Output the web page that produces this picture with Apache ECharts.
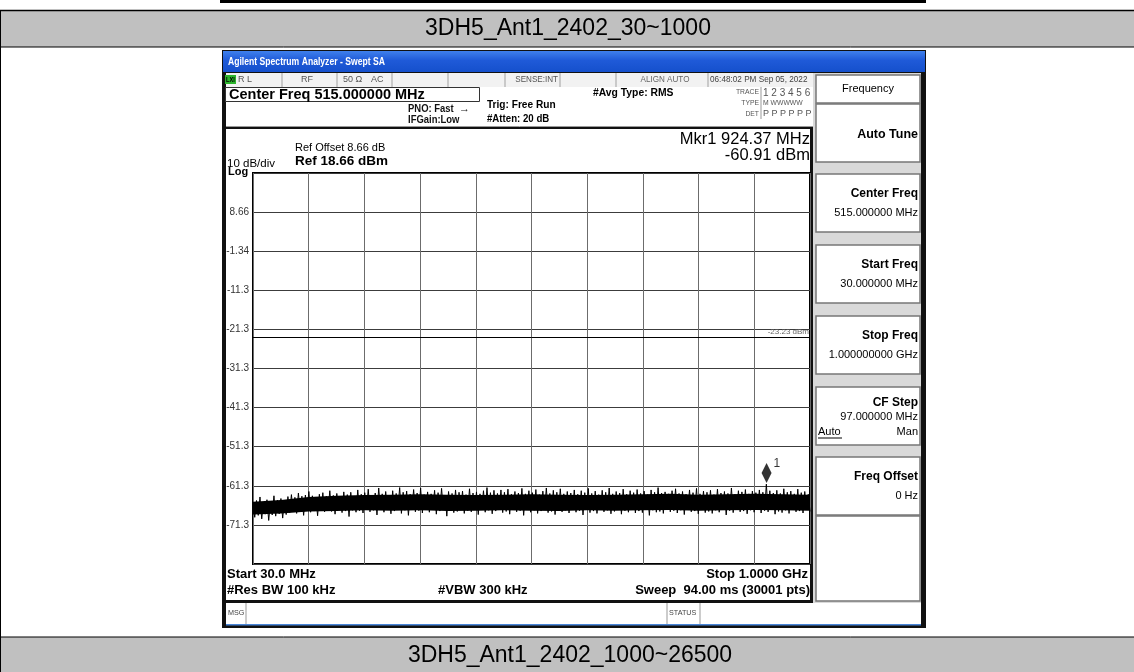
<!DOCTYPE html>
<html>
<head>
<meta charset="utf-8">
<script src="https://cdn.jsdelivr.net/npm/echarts@6/dist/echarts.min.js"></script>
<style>
  html, body { margin: 0; padding: 0; background: #fff; }
  #chart { width: 1134px; height: 672px; }
</style>
</head>
<body>
<div id="chart"></div>
<script>
// ---- data ----
const titleTop = '3DH5_Ant1_2402_30~1000';
const titleBottom = '3DH5_Ant1_2402_1000~26500';
const startMHz = 30;
const stopMHz = 1000;
const divMHz = 97;
const refLevel = 18.66;
const dbPerDiv = 10;
const yTickLabels = ['8.66', '-1.34', '-11.3', '-21.3', '-31.3', '-41.3', '-51.3', '-61.3', '-71.3'];
const displayLine = -23.23;
const markerFreqMHz = 924.37;
const markerLevel = -60.91;

// solid core of the noise floor, read every half division (30 MHz .. 1 GHz)
const coreTop = [-65.4, -65.0, -64.2, -63.9, -63.7, -63.6, -63.5, -63.6, -63.7, -63.6, -63.5,
                 -63.6, -63.7, -63.6, -63.5, -63.4, -63.6, -63.5, -63.4, -63.5, -63.6];
const coreBottom = [-68.7, -68.4, -67.9, -67.8, -67.6, -67.7, -67.6, -67.8, -67.7, -67.6, -67.7,
                    -67.8, -67.6, -67.7, -67.6, -67.5, -67.7, -67.6, -67.5, -67.6, -67.7];

// peak / trough readings of the noise floor, left to right
const traceDbm = [
  -65.8,-69.4,-65.1,-68.9,-64.2,-69.8,-65.5,-68.6,-64.9,-70.2,-65.3,-68.8,-63.9,-69.1,-65.0,-68.5,-64.6,-69.6,-65.2,-68.7,
  -64.1,-68.2,-63.6,-67.9,-64.3,-68.4,-63.2,-67.6,-64.0,-68.9,-63.7,-67.4,-62.8,-68.1,-63.9,-67.8,-64.2,-69.0,-63.5,-67.7,
  -63.1,-68.0,-64.0,-67.5,-62.6,-67.9,-63.8,-68.6,-63.3,-67.3,-64.1,-68.2,-62.9,-67.8,-63.6,-69.2,-63.0,-67.6,-64.2,-68.1,
  -62.4,-67.7,-63.5,-68.3,-63.1,-67.4,-62.2,-68.0,-63.7,-67.6,-63.2,-68.8,-61.9,-67.5,-63.4,-68.1,-62.8,-67.3,-63.9,-68.5,
  -62.6,-67.8,-63.3,-67.2,-61.8,-68.4,-63.0,-67.6,-62.7,-68.9,-63.5,-67.4,-62.3,-68.0,-63.2,-67.7,-61.9,-68.3,-63.6,-67.5,
  -62.9,-68.1,-63.4,-67.3,-62.5,-68.6,-63.1,-67.8,-62.0,-67.5,-63.7,-69.1,-62.8,-67.6,-63.3,-68.2,-62.4,-67.9,-63.0,-67.4,
  -62.7,-68.4,-63.6,-67.7,-62.1,-68.0,-63.2,-67.5,-62.9,-68.7,-63.4,-67.3,-62.6,-68.1,-61.8,-67.6,-63.1,-68.5,-62.5,-67.8,
  -63.3,-67.4,-62.4,-68.2,-63.0,-67.9,-62.2,-68.6,-63.5,-67.5,-62.8,-68.0,-63.2,-67.7,-62.0,-68.9,-63.4,-67.3,-62.6,-68.1,
  -63.1,-67.6,-62.3,-68.4,-63.6,-67.8,-62.7,-67.4,-61.9,-68.2,-63.3,-67.9,-62.5,-68.7,-63.0,-67.5,-62.1,-68.0,-63.4,-67.6,
  -62.8,-68.3,-63.2,-67.4,-62.4,-68.1,-63.5,-67.7,-62.6,-68.8,-63.1,-67.5,-62.0,-68.2,-63.3,-67.8,-62.7,-68.4,-63.6,-67.3,
  -62.5,-68.0,-63.0,-67.6,-61.9,-68.5,-63.4,-67.9,-62.8,-67.4,-63.2,-68.6,-62.2,-67.7,-63.5,-68.1,-62.6,-67.5,-63.1,-68.3,
  -62.3,-67.8,-63.3,-68.2,-62.7,-67.5,-63.6,-68.9,-62.4,-67.6,-63.0,-68.1,-61.8,-67.9,-63.2,-68.4,-62.9,-67.4,-63.4,-68.0,
  -62.6,-67.7,-62.1,-68.3,-63.3,-67.6,-62.8,-68.7,-63.5,-67.5,-62.4,-68.0,-63.1,-67.8,-62.0,-68.5,-63.4,-67.4,-62.7,-68.2,
  -63.0,-67.9,-62.5,-68.4,-63.6,-67.6,-62.2,-68.1,-63.2,-67.3,-62.8,-68.8,-63.3,-67.7,-61.9,-68.2,-63.5,-67.5,-62.6,-68.0,
  -62.9,-67.8,-62.3,-68.5,-63.4,-67.6,-62.7,-68.1,-63.1,-67.4,-62.4,-68.3,-63.0,-67.7,-60.91,-68.0,-62.6,-67.5,-63.2,-68.6,
  -62.5,-67.9,-63.3,-68.2,-62.1,-67.6,-63.0,-68.4,-62.7,-67.5,-63.4,-68.0,-62.2,-67.8,-63.1,-68.3,-62.8,-67.4,-63.5,-67.9
];

const statusCells = ['R L', 'RF', '50 \u03a9', 'AC', 'SENSE:INT', 'ALIGN AUTO', '06:48:02 PM Sep 05, 2022'];
const softkeyTitles = ['Auto Tune', 'Center Freq', 'Start Freq', 'Stop Freq', 'CF Step', 'Freq Offset'];
const softkeyValues = ['', '515.000000 MHz', '30.000000 MHz', '1.000000000 GHz', '97.000000 MHz', '0 Hz'];

const SANS = '"Liberation Sans", Arial, sans-serif';

// ---- little helpers for the instrument chrome ----
function box(x, y, w, h, fill, stroke, lw) {
  return { type: 'rect', silent: true, z: -10, shape: { x: x, y: y, width: w, height: h },
    style: { fill: fill || 'none', stroke: stroke || null, lineWidth: lw || 0 } };
}
function seg(x1, y1, x2, y2, color, lw) {
  return { type: 'line', silent: true, z: -9, shape: { x1: x1, y1: y1, x2: x2, y2: y2 },
    style: { stroke: color, lineWidth: lw || 1 } };
}
// sx squeezes the text sideways, the analyzer uses a condensed face in places
function txt(x, y, s, font, color, align, sx) {
  return { type: 'text', silent: true, z: 20, x: x, y: y, scaleX: sx || 1,
    style: { text: s, font: font, fill: color || '#000',
      textAlign: align || 'left', align: align || 'left',
      textVerticalAlign: 'middle', verticalAlign: 'middle' } };
}

const g = [];
// report table rows
g.push(box(0, 10, 1134, 37, '#c0c0c0'));
g.push(box(0, 637, 1134, 35, '#c0c0c0'));
g.push(seg(0, 10.5, 1134, 10.5, '#000', 1.5));
g.push(seg(0, 47, 1134, 47, '#000', 1));
g.push(seg(0, 637, 1134, 637, '#000', 1));
g.push(seg(0.5, 10, 0.5, 672, '#000', 1));
g.push(box(220, 0, 706, 3, '#000'));
g.push(txt(568, 29, titleTop, '23px ' + SANS, '#000', 'center'));
g.push(txt(570, 656, titleBottom, '23px ' + SANS, '#000', 'center'));

// analyzer frame
g.push(box(222, 50, 704, 578, '#111'));
g.push(box(223, 51, 702, 21, new echarts.graphic.LinearGradient(0, 0, 0, 1, [
  { offset: 0, color: '#3f80ec' }, { offset: 0.45, color: '#1f5ad8' }, { offset: 1, color: '#1550cc' }])));
g.push(txt(228, 62, 'Agilent Spectrum Analyzer - Swept SA', 'bold 10.5px ' + SANS, '#fff', 'left', 0.82));

// status strip
g.push(box(226, 73, 587, 14, '#f2f2f2'));
g.push(box(225, 75, 11, 9, '#2cb52c'));
g.push(txt(226, 80, 'LXI', 'bold 7px ' + SANS, '#000', 'left', 0.8));
[282, 337, 392, 448, 505, 560, 616, 708].forEach(function (x) { g.push(seg(x, 73, x, 87, '#a0a0a0', 1)); });
g.push(txt(238, 80, statusCells[0], '9px ' + SANS, '#555'));
g.push(txt(301, 80, statusCells[1], '9px ' + SANS, '#555'));
g.push(txt(343, 80, statusCells[2], '9px ' + SANS, '#555'));
g.push(txt(371, 80, statusCells[3], '9px ' + SANS, '#555'));
g.push(txt(558, 80, statusCells[4], '9px ' + SANS, '#555', 'right', 0.9));
g.push(txt(665, 80, statusCells[5], '9px ' + SANS, '#666', 'center', 0.9));
g.push(txt(710, 80, statusCells[6], '9px ' + SANS, '#444', 'left', 0.91));

// header block
g.push(box(226, 87, 587, 40, '#fff'));
g.push(box(225.5, 87.5, 254, 14, '#fff', '#333', 1));
g.push(txt(229, 95, 'Center Freq 515.000000 MHz', 'bold 14.5px ' + SANS, '#000'));
g.push(txt(408, 109, 'PNO: Fast', 'bold 10.5px ' + SANS, '#111', 'left', 0.9));
g.push(txt(459, 109, '\u2192', 'bold 11px ' + SANS, '#111'));
g.push(txt(408, 120, 'IFGain:Low', 'bold 10.5px ' + SANS, '#111', 'left', 0.9));
g.push(txt(487, 105, 'Trig: Free Run', 'bold 11px ' + SANS, '#000', 'left', 0.92));
g.push(txt(487, 119, '#Atten: 20 dB', 'bold 10.5px ' + SANS, '#000', 'left', 0.92));
g.push(txt(593, 93, '#Avg Type: RMS', 'bold 11px ' + SANS, '#000', 'left', 0.94));
g.push(txt(759, 92, 'TRACE', '8px ' + SANS, '#555', 'right', 0.85));
g.push(txt(759, 103, 'TYPE', '8px ' + SANS, '#555', 'right', 0.85));
g.push(txt(759, 114, 'DET', '8px ' + SANS, '#555', 'right', 0.85));
g.push(txt(763, 93, '1 2 3 4 5 6', '10px ' + SANS, '#555'));
g.push(txt(763, 103, 'M WWWWW', '8px ' + SANS, '#555', 'left', 0.85));
g.push(txt(763, 114, 'P P P P P P', '9px ' + SANS, '#555'));
g.push(seg(761, 87, 761, 119, '#999', 1));
g.push(seg(226, 126.5, 813, 126.5, '#999', 1));

// plot panel
g.push(box(226, 129, 584, 471, '#fff'));
g.push(txt(295, 148, 'Ref Offset 8.66 dB', '11px ' + SANS, '#000'));
g.push(txt(227, 164, '10 dB/div', '11.5px ' + SANS, '#000'));
g.push(txt(295, 161, 'Ref 18.66 dBm', 'bold 13.5px ' + SANS, '#000'));
g.push(txt(228, 172, 'Log', 'bold 11px ' + SANS, '#000'));
g.push(txt(810, 139, 'Mkr1 ' + markerFreqMHz.toFixed(2) + ' MHz', '16.5px ' + SANS, '#000', 'right'));
g.push(txt(810, 155, markerLevel.toFixed(2) + ' dBm', '16.5px ' + SANS, '#000', 'right'));
g.push(txt(227, 574, 'Start 30.0 MHz', 'bold 13px ' + SANS, '#000'));
g.push(txt(227, 590, '#Res BW 100 kHz', 'bold 13px ' + SANS, '#000'));
g.push(txt(438, 590, '#VBW 300 kHz', 'bold 13px ' + SANS, '#000'));
g.push(txt(808, 574, 'Stop 1.0000 GHz', 'bold 13px ' + SANS, '#000', 'right'));
g.push(txt(810, 590, 'Sweep  94.00 ms (30001 pts)', 'bold 13px ' + SANS, '#000', 'right'));

// message bar
g.push(box(226, 603, 695, 21, '#fff'));
g.push(box(226, 624, 695, 1.5, '#4a86d8'));
g.push(txt(228, 613, 'MSG', '8px ' + SANS, '#444', 'left', 0.9));
g.push(seg(246, 603, 246, 624, '#999', 1));
g.push(seg(667, 603, 667, 624, '#999', 1));
g.push(seg(700, 603, 700, 624, '#999', 1));
g.push(txt(669, 613, 'STATUS', '8px ' + SANS, '#444', 'left', 0.9));

// soft-key panel
g.push(box(813, 73, 108, 530, '#d9d9d9'));
g.push(box(816, 75, 104, 28, '#fff', '#777', 1.5));
g.push(txt(868, 89, 'Frequency', '11px ' + SANS, '#000', 'center'));
const keyTops = [104, 174, 245, 316, 387, 457];
keyTops.forEach(function (top, i) {
  g.push(box(816, top, 104, 58, '#fff', '#777', 1.5));
  if (i === 0) {
    g.push(txt(918, top + 30, softkeyTitles[i], 'bold 13px ' + SANS, '#000', 'right', 0.96));
  } else if (i === 4) {
    g.push(txt(918, top + 16, softkeyTitles[i], 'bold 12.5px ' + SANS, '#000', 'right', 0.96));
    g.push(txt(918, top + 30, softkeyValues[i], '11px ' + SANS, '#000', 'right'));
    g.push(txt(818, top + 45, 'Auto', '11px ' + SANS, '#000'));
    g.push(seg(818, top + 51, 842, top + 51, '#000', 1));
    g.push(txt(918, top + 45, 'Man', '11px ' + SANS, '#000', 'right'));
  } else {
    g.push(txt(918, top + 20, softkeyTitles[i], 'bold 12.5px ' + SANS, '#000', 'right', 0.96));
    g.push(txt(918, top + 39, softkeyValues[i], '11px ' + SANS, '#000', 'right'));
  }
});
g.push(box(816, 516, 104, 85, '#fff', '#777', 1.5));

const step = (stopMHz - startMHz) / (traceDbm.length - 1);
const traceData = traceDbm.map(function (v, i) { return [startMHz + i * step, v]; });
const coreStep = (stopMHz - startMHz) / (coreTop.length - 1);
const coreData = coreTop.map(function (v, k) { return [startMHz + k * coreStep, v, coreBottom[k]]; });
const bottomLevel = refLevel - 10 * dbPerDiv;

const chart = echarts.init(document.getElementById('chart'));
chart.setOption({
  animation: false,
  backgroundColor: '#fff',
  graphic: g,
  grid: {
    left: 253, top: 173, width: 557, height: 391,
    show: true, backgroundColor: '#fff', borderColor: '#000', borderWidth: 2
  },
  xAxis: {
    type: 'value', min: startMHz, max: stopMHz, interval: divMHz,
    axisLabel: { show: false }, axisTick: { show: false }, axisLine: { show: false },
    splitLine: { show: true, lineStyle: { color: '#6c6c6c', width: 1 } }
  },
  yAxis: {
    type: 'value', min: bottomLevel, max: refLevel, interval: dbPerDiv,
    axisTick: { show: false }, axisLine: { show: false },
    axisLabel: {
      fontSize: 10, color: '#333', margin: 4, fontFamily: SANS,
      formatter: function (v) {
        const k = Math.round((refLevel - v) / dbPerDiv);
        return (k >= 1 && k <= 9) ? yTickLabels[k - 1] : '';
      }
    },
    splitLine: { show: true, lineStyle: { color: '#3c3c3c', width: 1 } }
  },
  series: [
    {
      // dense part of the noise band, drawn as one filled outline
      type: 'custom',
      data: coreData,
      encode: { x: 0, y: [1, 2] },
      silent: true,
      renderItem: function (params, api) {
        if (params.dataIndex !== 0) return null;
        const pts = [];
        coreData.forEach(function (d) { pts.push(api.coord([d[0], d[1]])); });
        for (let k = coreData.length - 1; k >= 0; k--) {
          pts.push(api.coord([coreData[k][0], coreData[k][2]]));
        }
        return { type: 'polygon', shape: { points: pts }, style: { fill: '#000' } };
      },
      z: 2
    },
    {
      type: 'line',
      data: traceData,
      showSymbol: false,
      lineStyle: { color: '#000', width: 1 },
      silent: true,
      z: 3,
      markLine: {
        silent: true,
        symbol: 'none',
        lineStyle: { color: '#000', width: 1, type: 'solid' },
        label: { position: 'insideEndTop', formatter: displayLine.toFixed(2) + ' dBm',
          fontSize: 8, color: '#666', fontFamily: SANS, distance: 1 },
        data: [{ yAxis: displayLine }]
      }
    },
    {
      type: 'scatter',
      data: [[markerFreqMHz, markerLevel]],
      symbol: 'diamond',
      symbolSize: [10, 20],
      symbolOffset: [0, -11],
      itemStyle: { color: '#000' },
      label: { show: true, formatter: '1', position: 'right', distance: 2, offset: [0, -9],
        fontSize: 12, color: '#000', fontFamily: SANS },
      z: 5
    }
  ]
});
</script>
</body>
</html>
